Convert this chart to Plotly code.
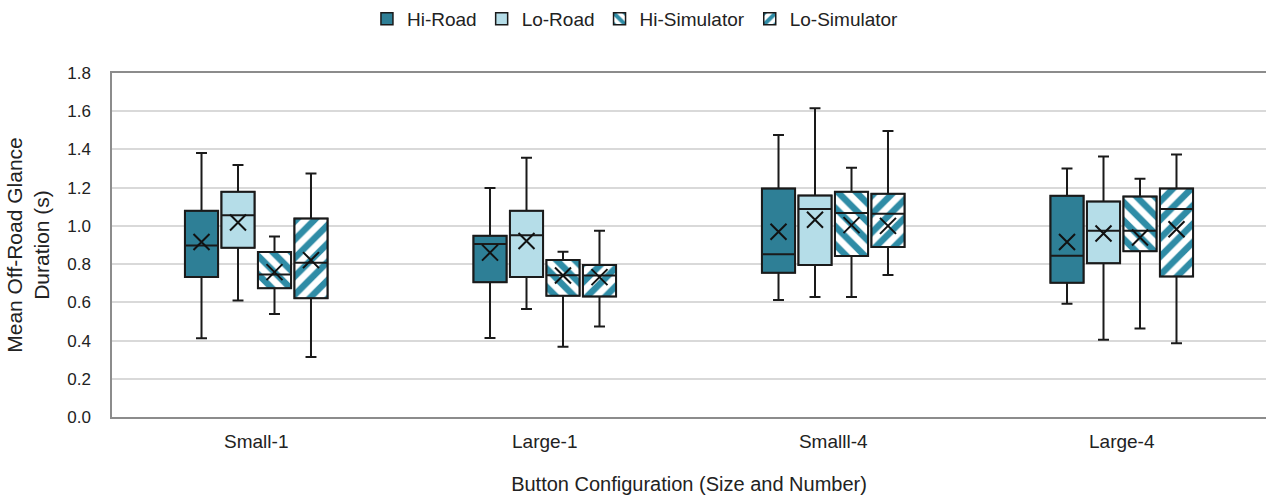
import plotly.graph_objects as go

categories = ["Small-1", "Large-1", "Smalll-4", "Large-4"]
series = ["Hi-Road", "Lo-Road", "Hi-Simulator", "Lo-Simulator"]

# stats per series, one value per category
lower = {
    "Hi-Road":      [0.412, 0.414, 0.612, 0.593],
    "Lo-Road":      [0.609, 0.565, 0.628, 0.404],
    "Hi-Simulator": [0.539, 0.368, 0.628, 0.463],
    "Lo-Simulator": [0.314, 0.474, 0.743, 0.386],
}
q1 = {
    "Hi-Road":      [0.732, 0.705, 0.755, 0.702],
    "Lo-Road":      [0.886, 0.733, 0.796, 0.804],
    "Hi-Simulator": [0.674, 0.635, 0.842, 0.867],
    "Lo-Simulator": [0.621, 0.630, 0.889, 0.735],
}
median = {
    "Hi-Road":      [0.898, 0.905, 0.852, 0.844],
    "Lo-Road":      [1.056, 0.951, 1.089, 0.974],
    "Hi-Simulator": [0.746, 0.742, 1.067, 0.974],
    "Lo-Simulator": [0.807, 0.740, 1.064, 1.089],
}
q3 = {
    "Hi-Road":      [1.079, 0.949, 1.196, 1.158],
    "Lo-Road":      [1.179, 1.079, 1.159, 1.128],
    "Hi-Simulator": [0.863, 0.821, 1.178, 1.154],
    "Lo-Simulator": [1.039, 0.795, 1.168, 1.195],
}
upper = {
    "Hi-Road":      [1.382, 1.198, 1.475, 1.300],
    "Lo-Road":      [1.318, 1.356, 1.616, 1.363],
    "Hi-Simulator": [0.944, 0.865, 1.304, 1.247],
    "Lo-Simulator": [1.274, 0.975, 1.496, 1.374],
}
mean = {
    "Hi-Road":      [0.916, 0.860, 0.969, 0.916],
    "Lo-Road":      [1.018, 0.921, 1.032, 0.960],
    "Hi-Simulator": [0.758, 0.740, 1.004, 0.939],
    "Lo-Simulator": [0.821, 0.732, 1.000, 0.982],
}

DARK = "#2E7F96"
LIGHT = "#B5DDE8"
STRIPE = "#2F8CA6"
styles = {
    "Hi-Road": dict(color=DARK, shape=""),
    "Lo-Road": dict(color=LIGHT, shape=""),
    "Hi-Simulator": dict(color="white", shape="\\"),
    "Lo-Simulator": dict(color="white", shape="/"),
}

step = 0.1265
bw = 0.115
fig = go.Figure()

for i, s in enumerate(series):
    off = (i - 1.5) * step
    xs = [k + off for k in range(len(categories))]
    st = styles[s]
    marker = dict(color=st["color"], line=dict(color="#1a1a1a", width=1.5))
    if st["shape"]:
        marker["pattern"] = dict(shape=st["shape"], fgcolor=STRIPE, bgcolor="white",
                                 fgopacity=1, size=13, solidity=0.5)
    fig.add_trace(go.Bar(
        x=xs, y=[b - a for a, b in zip(q1[s], q3[s])], base=q1[s],
        width=bw, name=s, marker=marker, showlegend=True,
        hoverinfo="skip",
    ))
    fig.add_trace(go.Box(
        x=xs, q1=q1[s], median=median[s], q3=q3[s],
        lowerfence=lower[s], upperfence=upper[s],
        width=bw, whiskerwidth=0.33,
        fillcolor="rgba(0,0,0,0)", line=dict(color="#1a1a1a", width=2),
        showlegend=False, name=s, boxpoints=False,
    ))
    fig.add_trace(go.Scatter(
        x=xs, y=mean[s], mode="markers", showlegend=False,
        marker=dict(symbol="x-thin", size=16, line=dict(color="#111111", width=2)),
        hoverinfo="skip",
    ))

font = "Liberation Sans, Arial, sans-serif"
fig.update_layout(
    width=1266, height=497,
    margin=dict(l=112, r=0, t=73, b=80),
    plot_bgcolor="white", paper_bgcolor="white",
    barmode="overlay",
    font=dict(family=font, size=17, color="#222222"),
    legend=dict(orientation="h", x=0.4536, xanchor="center",
                yref="container", y=1.0, yanchor="top",
                font=dict(size=19), traceorder="normal",
                itemwidth=30),
    xaxis=dict(
        range=[-0.5, 3.5], tickvals=list(range(len(categories))), ticktext=categories,
        showgrid=False, zeroline=False, showline=True, mirror=True,
        linecolor="#8c8c8c", linewidth=1.5, ticks="", ticklabelstandoff=6,
        title=dict(text="Button Configuration (Size and Number)", standoff=26,
                   font=dict(size=20)),
        tickfont=dict(size=19),
    ),
    yaxis=dict(
        range=[0, 1.8], dtick=0.2, tickformat=".1f",
        showgrid=True, gridcolor="#d9d9d9", gridwidth=1.5,
        zeroline=False, showline=True, linecolor="#8c8c8c", linewidth=1.5,
        ticks="", ticklen=0, ticklabelstandoff=16,
        title=dict(text="Mean Off-Road Glance<br>Duration (s)", standoff=12,
                   font=dict(size=21)),
        tickfont=dict(size=17),
    ),
)

fig.write_html("out.html", config={"displayModeBar": False},
               post_script="document.body.style.margin='0';document.body.style.overflow='hidden';")
